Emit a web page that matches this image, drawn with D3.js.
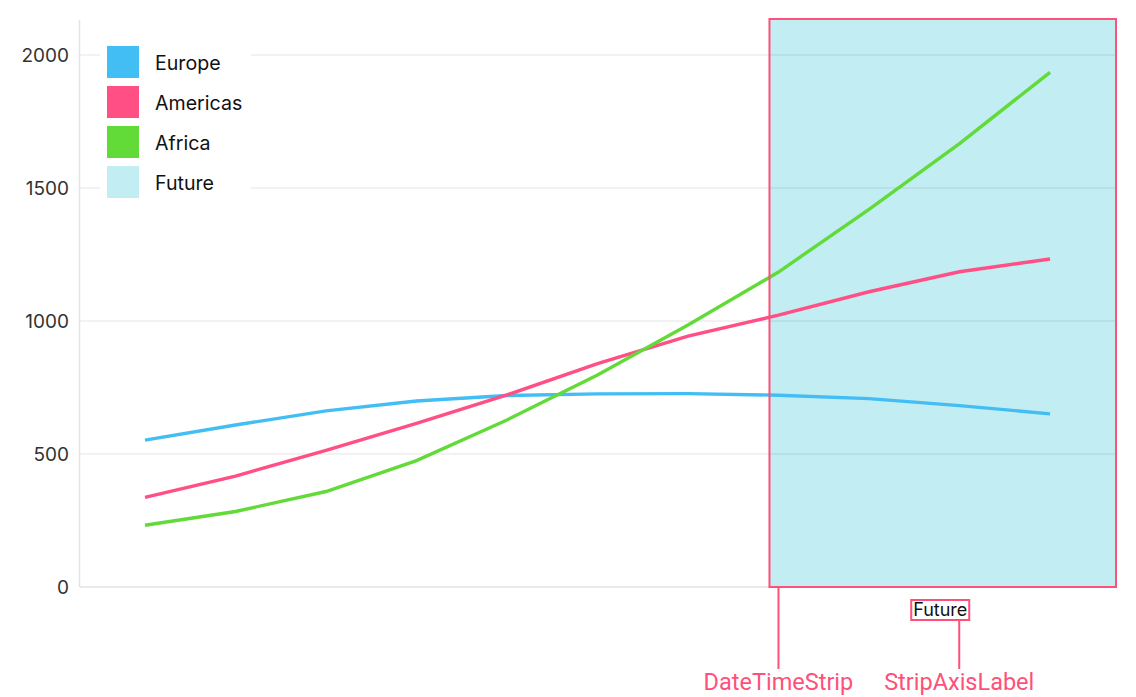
<!DOCTYPE html>
<html><head><meta charset="utf-8">
<script src="https://cdn.jsdelivr.net/npm/d3@7/dist/d3.min.js"></script>
<style>body{margin:0;background:#fff;}svg{display:block;font-family:Roboto,"Noto Sans",sans-serif;}</style>
</head><body><svg id="c" width="1136" height="697"></svg>
<script>
const years = [1950,1960,1970,1980,1990,2000,2010,2020,2030,2040,2050];
const europe = [552,609,662,699,720,726,727,721,708,682,651];
const americas = [337,417,514,615,722,840,943,1022,1110,1185,1233];
const africa = [232,284,359,475,628,797,985,1184,1420,1667,1935];
const seriesNames = ["Europe","Americas","Africa"];
const seriesColors = ["#42BEF4","#FF4F84","#62DA38"];
const yTicks = [0,500,1000,1500,2000];
const stripStart = 2019, stripLabel = "Future", stripColor = "#C2EDF3";
const annotations = ["DateTimeStrip","StripAxisLabel"];

const svg = d3.select("#c");
const L=80,R=1117,T=18,B=587;
const x = d3.scaleLinear().domain([1942.82,2057.4]).range([L,R]);
const y = d3.scaleLinear().domain([0,2000]).range([B,55]);

// strip
const sx0 = x(stripStart);
svg.append("rect").attr("x",sx0).attr("y",T).attr("width",R-sx0).attr("height",B-T).attr("fill",stripColor);

// grid
svg.append("g").selectAll("line").data(yTicks.filter(d=>d>0)).join("line")
  .attr("x1",L).attr("x2",R).attr("y1",d=>y(d)).attr("y2",d=>y(d))
  .attr("stroke","#000").attr("stroke-opacity",0.07).attr("stroke-width",1.5);
// axes lines
svg.append("line").attr("x1",L-0.5).attr("x2",L-0.5).attr("y1",20).attr("y2",B).attr("stroke","#e3e3e3").attr("stroke-width",1.5);
svg.append("line").attr("x1",L).attr("x2",R).attr("y1",B).attr("y2",B).attr("stroke","#e3e3e3").attr("stroke-width",1.5);

// y tick labels
svg.append("g").selectAll("text").data(yTicks).join("text")
  .attr("x",69).attr("y",d=>y(d)).attr("dy","0.36em").attr("text-anchor","end")
  .attr("font-family","Inter, Roboto, sans-serif")
  .attr("font-size",19).attr("fill","#333").text(d=>d);

// lines
const data=[europe,americas,africa];
const line = d3.line().x((d,i)=>x(years[i])).y(d=>y(d));
data.forEach((s,k)=>{
  svg.append("path").datum(s).attr("d",line).attr("fill","none")
    .attr("stroke",seriesColors[k]).attr("stroke-width",3.4);
});

// strip border
svg.append("rect").attr("x",sx0).attr("y",T+1).attr("width",R-sx0-1).attr("height",B-T-1)
  .attr("fill","none").attr("stroke","#FF5079").attr("stroke-width",2);

// legend
const lg = svg.append("g");
lg.append("rect").attr("x",100).attr("y",36).attr("width",151).attr("height",170).attr("fill","#fff");
const legendNames = seriesNames.concat([stripLabel]);
const legendColors = seriesColors.concat([stripColor]);
legendNames.forEach((n,i)=>{
  lg.append("rect").attr("x",107).attr("y",46+i*40).attr("width",32).attr("height",32).attr("fill",legendColors[i]);
  lg.append("text").attr("x",155).attr("y",63+i*40).attr("dy","0.36em")
    .attr("font-family","Inter, Roboto, sans-serif").attr("font-size",19.6).attr("fill","#111").text(n);
});

// strip axis label
const lx = (sx0+R)/2 - 3;
svg.append("text").attr("x",lx).attr("y",610).attr("dy","0.36em").attr("text-anchor","middle")
  .attr("font-family","Inter, Roboto, sans-serif")
  .attr("font-size",18).attr("fill","#111").text(stripLabel);
svg.append("rect").attr("x",lx-29).attr("y",600).attr("width",58).attr("height",20)
  .attr("fill","none").attr("stroke","#FF5079").attr("stroke-width",2);

// annotations
const ax1 = sx0+9, ax2 = lx+19;
svg.append("line").attr("x1",ax1).attr("x2",ax1).attr("y1",B).attr("y2",669).attr("stroke","#FF5079").attr("stroke-width",2);
svg.append("line").attr("x1",ax2).attr("x2",ax2).attr("y1",620).attr("y2",669).attr("stroke","#FF5079").attr("stroke-width",2);
svg.append("text").attr("x",ax1).attr("y",682).attr("dy","0.36em").attr("text-anchor","middle").attr("font-size",23.5).attr("fill","#FF5079").text(annotations[0]);
svg.append("text").attr("x",ax2).attr("y",682).attr("dy","0.36em").attr("text-anchor","middle").attr("font-size",23.5).attr("fill","#FF5079").text(annotations[1]);
</script></body></html>
